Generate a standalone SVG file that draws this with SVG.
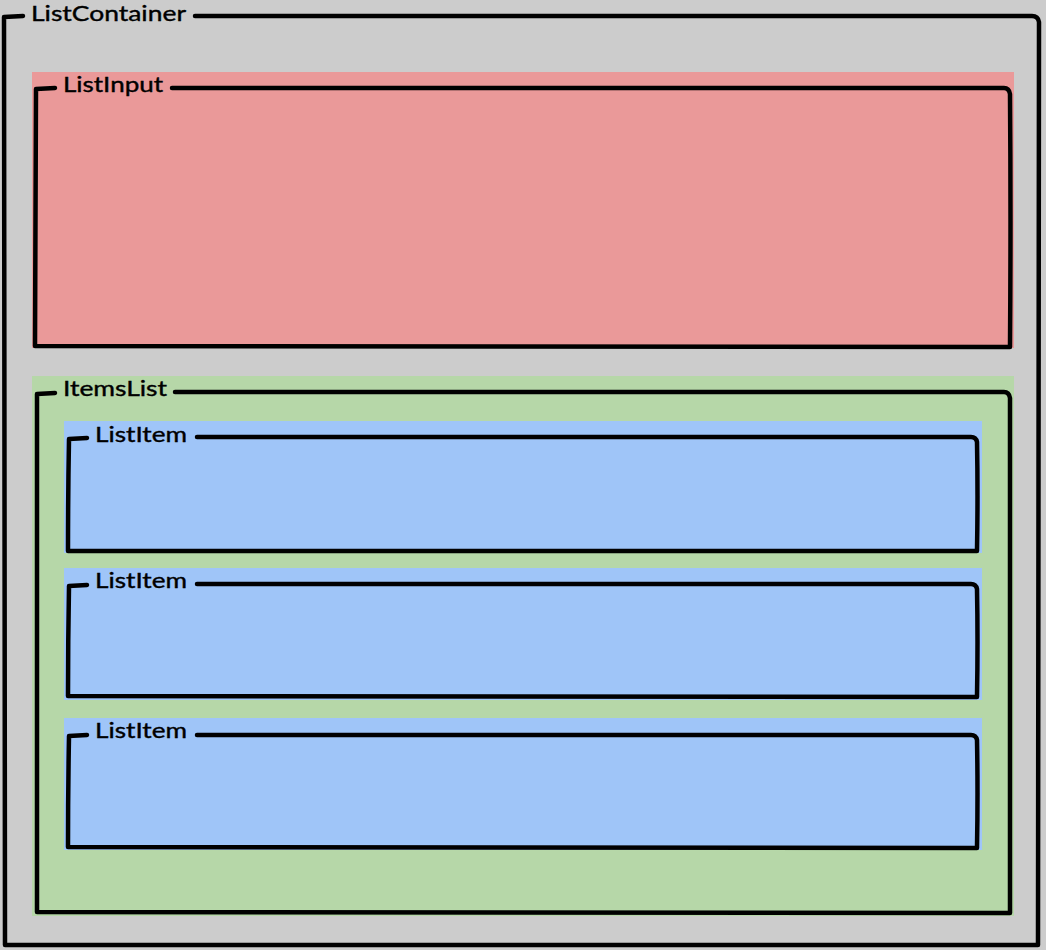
<svg xmlns="http://www.w3.org/2000/svg" width="1046" height="950" viewBox="0 0 1046 950">
<style>
.b{fill:none;stroke:#000;stroke-width:4.5;stroke-linecap:round;stroke-linejoin:round}
.t{font-family:Lato,"Liberation Sans",sans-serif;font-size:22px;fill:#000;stroke:#000;stroke-width:0.4}
</style>
<rect x="0" y="0" width="1046" height="950" fill="#cccccc"/>
<g id="ListContainer">
<path class="b" d="M23,16 L4,17 Q3,480 5,945 Q520,947 1038,945 Q1040,480 1039,22 Q1038,16 1032,16 L195,16"/>
<text class="t" x="31" y="21" textLength="155" lengthAdjust="spacingAndGlyphs">ListContainer</text>
</g>
<g id="ListInput">
<rect x="32" y="72" width="982" height="276" fill="#ea9999"/>
<path class="b" d="M55,88 L36,89 Q35,220 35,346 Q520,348 1010,347 Q1011,220 1010,94 Q1009,88 1004,88 L172,88"/>
<text class="t" x="63" y="92" textLength="100" lengthAdjust="spacingAndGlyphs">ListInput</text>
</g>
<g id="ItemsList">
<rect x="32" y="376" width="982" height="540" fill="#b6d7a8"/>
<path class="b" d="M55,393 L37,394 Q36,650 37,912 Q520,914 1010,913 Q1011,650 1010,398 Q1009,392 1004,392 L175,392"/>
<text class="t" x="63" y="396" textLength="104" lengthAdjust="spacingAndGlyphs">ItemsList</text>
</g>
<g id="ListItem1">
<rect x="64" y="421" width="918" height="132" fill="#9fc5f8"/>
<path class="b" d="M87,438 L69,439 Q68,495 68,551 Q520,553 977,551 Q978,495 977,442 Q976,437 971,437 L197,437"/>
<text class="t" x="95" y="442" textLength="92" lengthAdjust="spacingAndGlyphs">ListItem</text>
</g>
<g id="ListItem2">
<rect x="64" y="568" width="918" height="132" fill="#9fc5f8"/>
<path class="b" d="M87,585 L69,586 Q68,641 68,696 Q520,698 977,697 Q978,641 977,589 Q976,584 971,584 L197,584"/>
<text class="t" x="95" y="588" textLength="92" lengthAdjust="spacingAndGlyphs">ListItem</text>
</g>
<g id="ListItem3">
<rect x="64" y="718" width="918" height="132" fill="#9fc5f8"/>
<path class="b" d="M87,735 L69,736 Q68,792 68,847 Q520,849 977,848 Q978,792 977,740 Q976,735 971,735 L197,735"/>
<text class="t" x="95" y="738" textLength="92" lengthAdjust="spacingAndGlyphs">ListItem</text>
</g>
<g id="connectors"></g>
</svg>
